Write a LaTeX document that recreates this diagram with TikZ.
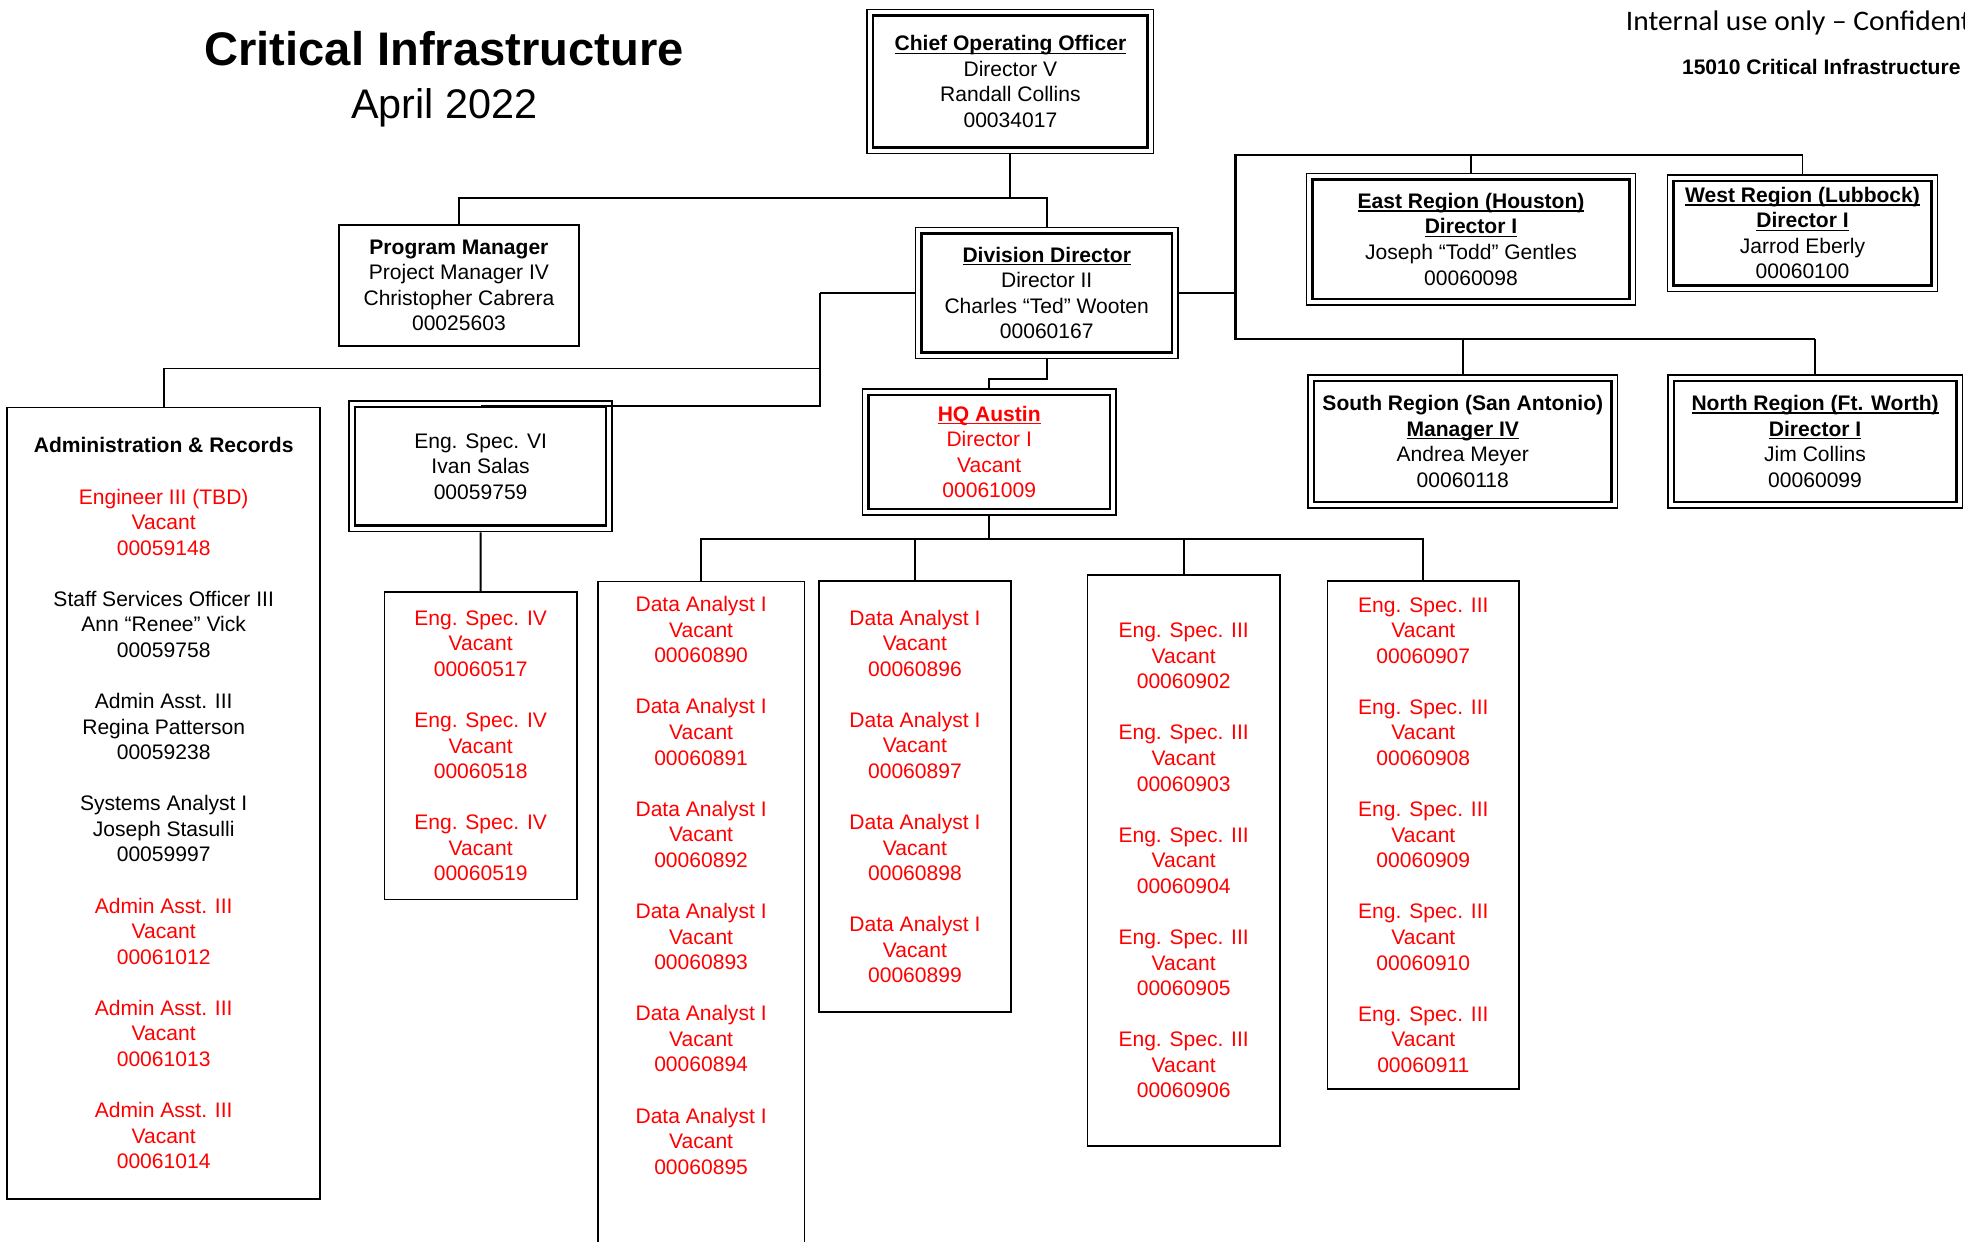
\documentclass[tikz,border=0pt]{standalone}
\usepackage{fontspec}
\setmainfont{Liberation Sans}
\newfontfamily\calibrifont[FakeStretch=1.04]{Carlito}

\definecolor{vacred}{RGB}{255,0,0}

% blank line between position groups
\newcommand\grpsep{\\[10.2pt]}
% bold underlined heading
\newsavebox\hdbox
\newcommand\hd[1]{\leavevmode\sbox\hdbox{\bfseries #1}\rlap{\rule[-1.3pt]{\wd\hdbox}{0.6pt}}\usebox\hdbox}
% one position: title / Vacant / number
\newcommand\vblock[2]{#1\\Vacant\\#2}
% the same, in red, inside a black list
\newcommand\vacgrp[2]{\textcolor{vacred}{#1}\\\textcolor{vacred}{Vacant}\\\textcolor{vacred}{#2}}

\tikzset{
  orgtext/.style={font=\fontsize{8.4}{10.2}\selectfont, align=center, inner sep=0pt},
  sz/.style 2 args={minimum width=#1pt, minimum height=#2pt},
  sbox/.style={orgtext, draw, line width=0.7pt},
  dbox/.style={orgtext, draw, line width=0.6pt,
    path picture={\draw[line width=1pt]
      ([shift={(2.4pt,-2.4pt)}]path picture bounding box.north west) rectangle
      ([shift={(-2.4pt,2.4pt)}]path picture bounding box.south east);}},
  vac/.style={text=vacred},
  wire/.style={line width=0.75pt},
  bus/.style={line width=1.1pt},
}

\begin{document}
\begin{tikzpicture}[x=0.5pt, y=-0.5pt]
\useasboundingbox (0,0) rectangle (1568,991);
\clip (0,0) rectangle (1568,991);

% headings
\node[anchor=base, inner sep=0pt, font=\fontsize{18.8}{22}\selectfont\bfseries] (title) at (354.4,52) {Critical Infrastructure};
\node[anchor=base, inner sep=0pt, font=\fontsize{16.5}{20}\selectfont] (date) at (354.4,94.4) {April 2022};
\node[anchor=base west, inner sep=0pt, font=\calibrifont\fontsize{11.3}{13}\selectfont] (conf) at (1297,24.5) {Internal use only – Confidential};
\node[anchor=base west, inner sep=0pt, font=\fontsize{8.4}{10}\selectfont\bfseries] (unit) at (1341.8,59.8) {15010 Critical Infrastructure};

% leadership
\node[dbox, sz={114.25}{57.4}] (coo) at (806.25,65.1)
  {\hd{Chief Operating Officer}\\Director V\\Randall Collins\\00034017};
\node[sbox, sz={95.55}{48}] (pm) at (366.2,227.8)
  {\textbf{Program Manager}\\Project Manager IV\\Christopher Cabrera\\00025603};
\node[dbox, sz={104.75}{52.25}] (dd) at (835.25,233.75)
  {\hd{Division Director}\\Director II\\Charles “Ted” Wooten\\00060167};

% regions
\node[dbox, sz={131.3}{52.6}] (reast) at (1173.8,190.9)
  {\hd{East Region (Houston)}\\\hd{Director I}\\Joseph “Todd” Gentles\\00060098};
\node[dbox, sz={107.85}{46.5}] (rwest) at (1438.35,186)
  {\hd{West Region (Lubbock)}\\\hd{Director I}\\Jarrod Eberly\\00060100};
\node[dbox, sz={123.35}{53.05}] (rsouth) at (1167.25,352.25)
  {\textbf{South Region (San Antonio)}\\\hd{Manager IV}\\Andrea Meyer\\00060118};
\node[dbox, sz={117.45}{53.05}] (rnorth) at (1448.35,352.25)
  {\hd{North Region (Ft. Worth)}\\\hd{Director I}\\Jim Collins\\00060099};

% administration
\node[sbox, sz={124.8}{315.8}] (admin) at (130.6,641)
  {\textbf{Administration \& Records}\grpsep
   \vacgrp{Engineer III (TBD)}{00059148}\grpsep
   Staff Services Officer III\\Ann “Renee” Vick\\00059758\grpsep
   Admin Asst. III\\Regina Patterson\\00059238\grpsep
   Systems Analyst I\\Joseph Stasulli\\00059997\grpsep
   \vacgrp{Admin Asst. III}{00061012}\grpsep
   \vacgrp{Admin Asst. III}{00061013}\grpsep
   \vacgrp{Admin Asst. III}{00061014}};

% engineering
\node[dbox, sz={105}{52.2}] (esvi) at (383.5,372.1)
  {Eng. Spec. VI\\Ivan Salas\\00059759};
\node[sbox, vac, sz={76.75}{122.65}] (es4) at (383.55,595.15)
  {\vblock{Eng. Spec. IV}{00060517}\grpsep
   \vblock{Eng. Spec. IV}{00060518}\grpsep
   \vblock{Eng. Spec. IV}{00060519}};

% HQ Austin and its teams
\node[dbox, vac, sz={101.15}{50.4}] (hq) at (789.35,360.7)
  {\hd{HQ Austin}\\Director I\\Vacant\\00061009};
\node[sbox, sz={82.45}{300}, anchor=north] (da1) at (559.45,463.4) {};
\node[orgtext, vac] (da1txt) at (559.45,706.5)
  {\vblock{Data Analyst I}{00060890}\grpsep
   \vblock{Data Analyst I}{00060891}\grpsep
   \vblock{Data Analyst I}{00060892}\grpsep
   \vblock{Data Analyst I}{00060893}\grpsep
   \vblock{Data Analyst I}{00060894}\grpsep
   \vblock{Data Analyst I}{00060895}};
\node[sbox, vac, sz={76.7}{172.15}] (da2) at (730.1,635.55)
  {\vblock{Data Analyst I}{00060896}\grpsep
   \vblock{Data Analyst I}{00060897}\grpsep
   \vblock{Data Analyst I}{00060898}\grpsep
   \vblock{Data Analyst I}{00060899}};
\node[sbox, vac, sz={76.7}{227.65}] (es3a) at (944.5,686.65)
  {\vblock{Eng. Spec. III}{00060902}\grpsep
   \vblock{Eng. Spec. III}{00060903}\grpsep
   \vblock{Eng. Spec. III}{00060904}\grpsep
   \vblock{Eng. Spec. III}{00060905}\grpsep
   \vblock{Eng. Spec. III}{00060906}};
\node[sbox, vac, sz={76.55}{202.85}] (es3b) at (1135.75,666.25)
  {\vblock{Eng. Spec. III}{00060907}\grpsep
   \vblock{Eng. Spec. III}{00060908}\grpsep
   \vblock{Eng. Spec. III}{00060909}\grpsep
   \vblock{Eng. Spec. III}{00060910}\grpsep
   \vblock{Eng. Spec. III}{00060911}};

% junction points
\coordinate (cbus) at (806.25,158.3);
\coordinate (lj) at (654,294);
\coordinate (hqj) at (835.25,302.6);
\coordinate (hqbus) at (789.35,430.4);
\coordinate (rtop) at (986,123.7);
\coordinate (rbot) at (986,270.5);

% COO to its reports
\draw[wire] (coo.south) -- (cbus);
\draw[wire] (pm.north) |- (cbus) -| (dd.north);

% division director, left side
\draw[bus] (dd.west) -- (dd.west -| lj);
\draw[wire] (dd.west -| lj) -- (lj) -| (admin.north);
\draw[wire] (lj) |- ([yshift=-2.4pt]esvi.north);
\draw[wire] (esvi.south) -- (es4.north);

% division director to HQ Austin
\draw[wire] (dd.south) -- (hqj) -| (hq.north);
\draw[wire] (hq.south) -- (hqbus);
\draw[wire] (da1.north) |- (hqbus) -| (es3b.north);
\draw[wire] (hqbus -| da2.north) -- (da2.north);
\draw[wire] (hqbus -| es3a.north) -- (es3a.north);

% division director to the regions
\draw[bus] (dd.east) -- (dd.east -| rtop);
\draw[bus] (rtop -| rwest.north) -- (rtop) -- (rbot) -- (rbot -| rnorth.north);
\draw[wire] (rtop -| rwest.north) -- (rwest.north);
\draw[wire] (rtop -| reast.north) -- (reast.north);
\draw[wire] (rbot -| rsouth.north) -- (rsouth.north);
\draw[wire] (rbot -| rnorth.north) -- (rnorth.north);
\end{tikzpicture}
\end{document}
